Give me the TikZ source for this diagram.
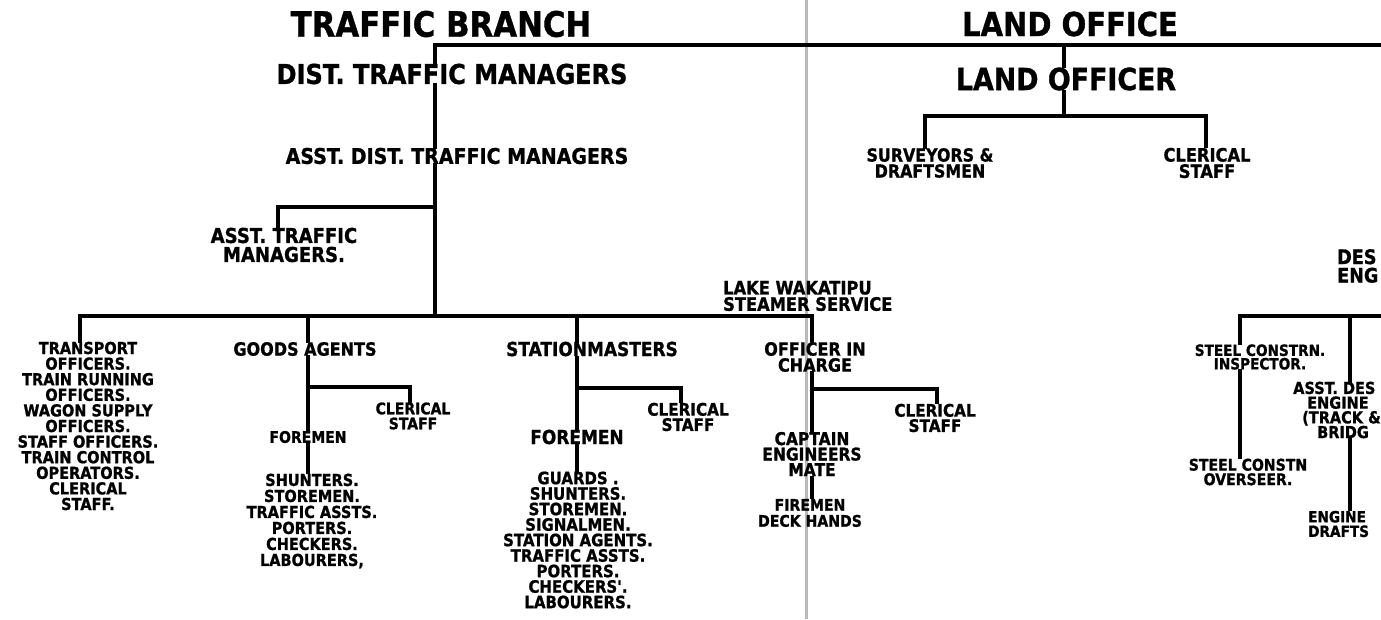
\documentclass[tikz,border=0pt]{standalone}
\usepackage{fontspec}
\newfontfamily\hand{DejaVu Sans}[FakeStretch=0.88, BoldFeatures={FakeBold=1}]
\newcommand\fsz[2]{\fontsize{#1}{#2}\selectfont}
\begin{document}
\begin{tikzpicture}[x=1pt,y=-1pt,
  lbl/.style={inner sep=1pt, align=center, text=black},
  big/.style={line width=4.2pt, line cap=rect},
  thin/.style={line width=3.2pt, line cap=rect},
  fold/.style={line width=3pt, draw=gray!55}]
\useasboundingbox (0,0) rectangle (1381,619);
\fill[white] (0,0) rectangle (1381,619);
\clip (0,0) rectangle (1381,619);
% crease of the scanned sheet
\draw[fold] (806,0) -- (806,619);

% ---- titles
\node[lbl, font=\hand\bfseries\fsz{35}{35}] (tb) at (441,24) {TRAFFIC BRANCH};
\node[lbl, font=\hand\bfseries\fsz{33}{33}] (lot) at (1070,24) {LAND OFFICE};

% ---- traffic branch
\node[lbl, font=\hand\bfseries\fsz{27.3}{27}] (dtm) at (452,74) {DIST. TRAFFIC MANAGERS};
\node[lbl, font=\hand\bfseries\fsz{21.6}{21}] (adtm) at (457,156) {ASST. DIST. TRAFFIC MANAGERS};
\node[lbl, font=\hand\bfseries\fsz{20.5}{19}] (atm) at (284,245) {ASST. TRAFFIC\\MANAGERS.};
\node[lbl, anchor=west, align=left, font=\hand\bfseries\fsz{18.5}{16.3}] (lw) at (722,296) {LAKE WAKATIPU\\STEAMER SERVICE};

\node[lbl, font=\hand\bfseries\fsz{16.5}{15.6}] (to) at (88,426)
  {TRANSPORT\\OFFICERS.\\TRAIN RUNNING\\OFFICERS.\\WAGON SUPPLY\\OFFICERS.\\STAFF OFFICERS.\\TRAIN CONTROL\\OPERATORS.\\CLERICAL\\STAFF.};
\node[lbl, font=\hand\bfseries\fsz{18.2}{18}] (ga) at (305,349) {GOODS AGENTS};
\node[lbl, font=\hand\bfseries\fsz{19.3}{19}] (sm) at (592,349) {STATIONMASTERS};
\node[lbl, font=\hand\bfseries\fsz{18.2}{16}] (oic) at (815,357) {OFFICER IN\\CHARGE};

% goods
\node[lbl, font=\hand\bfseries\fsz{15.9}{15}] (gcs) at (413,416) {CLERICAL\\STAFF};
\node[lbl, font=\hand\bfseries\fsz{15.9}{16}] (gfm) at (308,437) {FOREMEN};
\node[lbl, font=\hand\bfseries\fsz{16.5}{16}] (gl) at (312,521)
  {SHUNTERS.\\STOREMEN.\\TRAFFIC ASSTS.\\PORTERS.\\CHECKERS.\\LABOURERS,};
% stationmasters
\node[lbl, font=\hand\bfseries\fsz{17.3}{15.3}] (scs) at (688,417) {CLERICAL\\STAFF};
\node[lbl, font=\hand\bfseries\fsz{19.3}{19}] (sfm) at (577,437) {FOREMEN};
\node[lbl, font=\hand\bfseries\fsz{17}{15.5}] (sl) at (578,540)
  {GUARDS .\\SHUNTERS.\\STOREMEN.\\SIGNALMEN.\\STATION AGENTS.\\TRAFFIC ASSTS.\\PORTERS.\\CHECKERS'.\\LABOURERS.};
% officer in charge
\node[lbl, font=\hand\bfseries\fsz{17.3}{15.3}] (ocs) at (935,418) {CLERICAL\\STAFF};
\node[lbl, font=\hand\bfseries\fsz{17.6}{15.5}] (cap) at (812,454) {CAPTAIN\\ENGINEERS\\MATE};
\node[lbl, font=\hand\bfseries\fsz{16}{16}] (fir) at (810,513) {FIREMEN\\DECK HANDS};

% ---- land office
\node[lbl, font=\hand\bfseries\fsz{30.5}{30}] (lofr) at (1066,79) {LAND OFFICER};
\node[lbl, font=\hand\bfseries\fsz{18}{16}] (sd) at (930,163) {SURVEYORS \&\\DRAFTSMEN};
\node[lbl, font=\hand\bfseries\fsz{18.5}{16.3}] (lcs) at (1207,163) {CLERICAL\\STAFF};

% ---- right edge (cut off)
\node[lbl, anchor=west, align=left, font=\hand\bfseries\fsz{20}{18.5}] (des) at (1336,266) {DES\\ENG};
\node[lbl, font=\hand\bfseries\fsz{15.5}{13.5}] (sci) at (1260,357) {STEEL CONSTRN.\\INSPECTOR.};
\node[lbl, font=\hand\bfseries\fsz{16}{14.5}] (sco) at (1248,472) {STEEL CONSTN\\OVERSEER.};
\node[lbl, anchor=west, align=left, font=\hand\bfseries\fsz{16.5}{14.7}] (ade) at (1292,410)
  {ASST. DES\\\hspace*{14pt}ENGINE\\\hspace*{9pt}(TRACK \&\\\hspace*{24pt}BRIDG};
\node[lbl, anchor=west, align=left, font=\hand\bfseries\fsz{15.5}{14.5}] (ed) at (1307,524) {ENGINE\\DRAFTS};

% ---- coordinates
\coordinate (j0) at (435,45);
\coordinate (tr) at (1390,45);
\coordinate (j1) at (435,207);
\coordinate (atmx) at (278,0);
\coordinate (j2) at (435,316);
\coordinate (cTo) at (80,316);
\coordinate (cGa) at (308,316);
\coordinate (cSm) at (577,316);
\coordinate (cOic) at (812,316);
\coordinate (gb) at (308,387);
\coordinate (gbx) at (410,0);
\coordinate (sb) at (577,388);
\coordinate (sbx) at (681,0);
\coordinate (ob) at (812,389);
\coordinate (obx) at (937,0);
\coordinate (cLo) at (1064,45);
\coordinate (lj) at (1064,116);
\coordinate (lL) at (925,116);
\coordinate (lR) at (1206,116);
\coordinate (rL) at (1240,316);
\coordinate (rM) at (1350,316);
\coordinate (rR) at (1390,316);

% ---- connectors
\draw[big] (dtm.north -| j0) -- (j0) -- (tr);
\draw[big] (dtm.south -| j0) -- (adtm.north -| j0);
\draw[big] (adtm.south -| j0) -- (j2);
\draw[thin] (j1) -| (atm.north -| atmx);
\draw[big] (to.north -| cTo) -- (cTo) -- (cOic) -- (oic.north -| cOic);
\draw[big] (cGa) -- (ga.north -| cGa);
\draw[big] (cSm) -- (sm.north -| cSm);

\draw[thin] (ga.south -| cGa) -- (gfm.north -| cGa);
\draw[thin] (gb) -| (gcs.north -| gbx);
\draw[thin] (gfm.south -| cGa) -- (gl.north -| cGa);

\draw[thin] (sm.south -| cSm) -- (sfm.north -| cSm);
\draw[thin] (sb) -| (scs.north -| sbx);
\draw[thin] (sfm.south -| cSm) -- (sl.north -| cSm);

\draw[thin] (oic.south -| cOic) -- (cap.north -| cOic);
\draw[thin] (ob) -| (ocs.north -| obx);
\draw[thin] (cap.south -| cOic) -- (fir.north -| cOic);

\draw[big] (cLo) -- (lofr.north -| cLo);
\draw[big] (lofr.south -| cLo) -- (lj);
\draw[thin] (sd.north -| lL) -- (lL) -- (lR) -- (lcs.north -| lR);

\draw[big] (sci.north -| rL) -- (rL) -- (rR);
\draw[big] (rM) -- (ade.north -| rM);
\draw[thin] (sci.south -| rL) -- (sco.north -| rL);
\draw[thin] (ade.south -| rM) -- (ed.north -| rM);
\end{tikzpicture}
\end{document}
